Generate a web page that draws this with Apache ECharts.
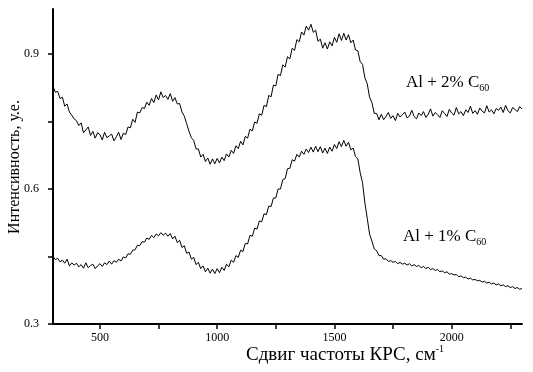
<!DOCTYPE html>
<html>
<head>
<meta charset="utf-8">
<script src="https://cdn.jsdelivr.net/npm/echarts@6/dist/echarts.min.js"></script>
<style>html,body{margin:0;padding:0;background:#fff}#c{width:533px;height:372px}</style>
</head>
<body>
<div id="c"></div>
<script>
// Raman shift sampling (cm^-1)
const shiftStart = 300;
const shiftStep = 10;

// Al + 2% C60 intensity (a.u.), one value per 10 cm^-1 from 300 to 2300
const al2 = [
.828,.815,.817,.801,.804,.784,.789,.771,.764,.756,
.752,.741,.747,.725,.731,.738,.719,.728,.713,.725,
.721,.709,.726,.714,.718,.722,.707,.716,.726,.710,
.724,.721,.738,.736,.755,.748,.771,.769,.781,.779,
.793,.786,.801,.792,.809,.798,.816,.803,.808,.799,
.812,.795,.803,.789,.790,.771,.762,.745,.728,.714,
.708,.689,.689,.671,.677,.661,.669,.655,.667,.656,
.668,.658,.671,.663,.678,.671,.686,.679,.696,.690,
.706,.698,.717,.713,.733,.729,.749,.746,.767,.764,
.786,.783,.808,.805,.831,.829,.855,.852,.876,.871,
.894,.889,.913,.908,.932,.927,.949,.942,.962,.953,
.966,.948,.953,.928,.933,.913,.925,.911,.927,.918,
.937,.926,.945,.930,.946,.931,.943,.925,.931,.909,
.907,.883,.877,.847,.834,.804,.792,.768,.768,.754,
.766,.754,.761,.770,.757,.763,.752,.768,.760,.765,
.771,.758,.762,.775,.761,.756,.769,.763,.772,.759,
.766,.778,.762,.770,.765,.759,.774,.768,.761,.777,
.769,.764,.781,.767,.772,.763,.776,.770,.784,.768,
.774,.766,.780,.773,.769,.785,.771,.776,.767,.779,
.775,.782,.770,.786,.774,.769,.781,.777,.772,.783,
.778
];

// Al + 1% C60 intensity (a.u.), one value per 10 cm^-1 from 300 to 2300
const al1 = [
.450,.443,.446,.438,.442,.435,.444,.429,.436,.431,
.435,.427,.432,.424,.436,.425,.430,.433,.423,.429,
.434,.428,.436,.432,.440,.433,.441,.437,.444,.440,
.449,.447,.456,.455,.464,.465,.475,.474,.483,.482,
.491,.488,.497,.492,.500,.496,.503,.497,.502,.495,
.501,.489,.495,.481,.486,.470,.474,.457,.460,.444,
.448,.432,.437,.423,.429,.416,.424,.413,.422,.412,
.423,.414,.426,.419,.433,.427,.442,.437,.452,.448,
.464,.461,.479,.478,.497,.495,.513,.511,.529,.527,
.545,.543,.562,.561,.580,.580,.600,.600,.621,.623,
.645,.646,.665,.662,.677,.671,.684,.677,.689,.681,
.693,.682,.695,.683,.694,.680,.691,.679,.693,.684,
.699,.690,.705,.694,.708,.695,.704,.687,.691,.672,
.667,.636,.614,.569,.535,.500,.484,.467,.463,.452,
.452,.444,.445,.439,.441,.437,.439,.434,.437,.433,
.435,.431,.434,.429,.432,.428,.430,.425,.428,.423,
.426,.421,.423,.419,.421,.416,.418,.414,.416,.411,
.412,.409,.410,.405,.407,.403,.404,.400,.402,.398,
.399,.396,.397,.393,.395,.391,.393,.389,.391,.387,
.389,.385,.387,.383,.385,.381,.383,.379,.381,.377,
.379
];

const xTickValues = [500, 750, 1000, 1250, 1500, 1750, 2000, 2250];
const xLabelValues = [500, 1000, 1500, 2000];
const yTickValues = [0.3, 0.45, 0.6, 0.75, 0.9];
const yLabelValues = [0.3, 0.6, 0.9];

const xTitle = 'Сдвиг частоты КРС, см';
const xTitleSup = '-1';
const yTitle = 'Интенсивность, у.е.';
const label2 = 'Al + 2% C';
const label1 = 'Al + 1% C';
const labelSub = '60';

function pairs(arr) {
  return arr.map((v, i) => [shiftStart + i * shiftStep, v]);
}

const chart = echarts.init(document.getElementById('c'), null, {renderer: 'canvas'});
const serif = '"Liberation Serif", "DejaVu Serif", serif';

chart.setOption({
  animation: false,
  backgroundColor: '#fff',
  grid: {left: 53, right: 11, top: 9, bottom: 48, containLabel: false},
  xAxis: {
    type: 'value', min: 300, max: 2300,
    axisLine: {show: true, lineStyle: {color: '#000', width: 2}},
    axisTick: {show: true, customValues: xTickValues, length: 5, lineStyle: {color: '#000', width: 1.5}},
    axisLabel: {customValues: xLabelValues, color: '#000', fontFamily: serif, fontSize: 12, margin: 8,
      formatter: v => String(v)},
    splitLine: {show: false}
  },
  yAxis: {
    type: 'value', min: 0.3, max: 1.0,
    axisLine: {show: true, lineStyle: {color: '#000', width: 2}},
    axisTick: {show: true, customValues: yTickValues, length: 5, lineStyle: {color: '#000', width: 1.5}},
    axisLabel: {customValues: yLabelValues, color: '#000', fontFamily: serif, fontSize: 12, margin: 14,
      formatter: v => v.toFixed(1)},
    splitLine: {show: false}
  },
  series: [
    {type: 'line', data: pairs(al2), showSymbol: false, symbol: 'none',
      lineStyle: {color: '#000', width: 1}},
    {type: 'line', data: pairs(al1), showSymbol: false, symbol: 'none',
      lineStyle: {color: '#000', width: 1}}
  ],
  graphic: [
    {type: 'text', x: 345, y: 355, silent: true,
      style: {text: xTitle + '{sup|' + xTitleSup + '}', fill: '#000', font: '19px ' + serif,
        align: 'center', verticalAlign: 'middle',
        rich: {sup: {fontSize: 10, fontFamily: serif, fill: '#000', padding: [0, 0, 11, 0]}}}},
    {type: 'text', x: 15, y: 167, rotation: Math.PI / 2, silent: true,
      style: {text: yTitle, fill: '#000', font: '16px ' + serif, align: 'center', verticalAlign: 'middle'}},
    {type: 'text', x: 406, y: 83, silent: true,
      style: {text: label2 + '{sub|' + labelSub + '}', fill: '#000', font: '17px ' + serif,
        align: 'left', verticalAlign: 'middle',
        rich: {sub: {fontSize: 10, fontFamily: serif, fill: '#000', padding: [11, 0, 0, 0]}}}},
    {type: 'text', x: 403, y: 237, silent: true,
      style: {text: label1 + '{sub|' + labelSub + '}', fill: '#000', font: '17px ' + serif,
        align: 'left', verticalAlign: 'middle',
        rich: {sub: {fontSize: 10, fontFamily: serif, fill: '#000', padding: [11, 0, 0, 0]}}}}
  ]
});
</script>
</body>
</html>
